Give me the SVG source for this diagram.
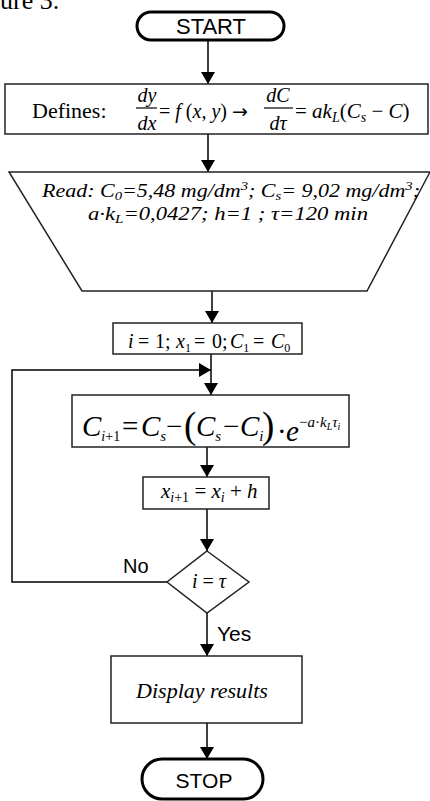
<svg xmlns="http://www.w3.org/2000/svg" width="430" height="801" viewBox="0 0 430 801">
<defs>
<marker id="ah" viewBox="0 0 12 14" refX="12" refY="7" markerWidth="12" markerHeight="14" markerUnits="userSpaceOnUse" orient="auto">
<path d="M0,0 L12,7 L0,14 Z" fill="#000"/>
</marker>
</defs>
<style>
.box{fill:#fff;stroke:#222;stroke-width:1.5}
.term{fill:#fff;stroke:#000;stroke-width:3}
.con{fill:none;stroke:#000;stroke-width:1.5;marker-end:url(#ah)}
.sans{font-family:"Liberation Sans",Arial,sans-serif;fill:#000}
.serif{font-family:"Liberation Serif","Times New Roman",serif;fill:#000}
.it{font-style:italic}
.bar{stroke:#000;stroke-width:1.2}
</style>
<rect width="430" height="801" fill="#fff"/>
<text class="serif" x="0" y="9" font-size="26">ure 3.</text>

<g id="connectors">
<line class="con" x1="208" y1="40" x2="208" y2="84"/>
<line class="con" x1="208" y1="134" x2="208" y2="172"/>
<line class="con" x1="212" y1="291" x2="212" y2="323"/>
<line class="con" x1="211" y1="354" x2="211" y2="395"/>
<line class="con" x1="207" y1="447" x2="207" y2="477"/>
<line class="con" x1="207" y1="509" x2="207" y2="551"/>
<line class="con" x1="207" y1="613" x2="207" y2="656"/>
<line class="con" x1="207" y1="723" x2="207" y2="759"/>
<polyline class="con" points="167,582 12,582 12,370 211,370"/>
<text class="sans" x="123" y="573" font-size="20">No</text>
<text class="sans" x="217" y="641" font-size="21">Yes</text>
</g>

<g id="start">
<rect class="term" x="137" y="12" width="147" height="28" rx="14"/>
<text class="sans" x="211" y="34" font-size="22" text-anchor="middle">START</text>
</g>

<g id="defines">
<rect class="box" x="5" y="84" width="423" height="50"/>
<text class="serif" x="32" y="118" font-size="22">Defines:</text>
<text class="serif it" x="147" y="102" font-size="20" text-anchor="middle">dy</text>
<line class="bar" x1="136" y1="108" x2="157" y2="108"/>
<text class="serif it" x="147" y="130" font-size="20" text-anchor="middle">dx</text>
<text class="serif" x="159" y="118" font-size="20">= <tspan class="it">f</tspan> (<tspan class="it">x</tspan>, <tspan class="it">y</tspan>) <tspan font-family="DejaVu Sans" font-size="19">→</tspan></text>
<text class="serif it" x="278" y="102" font-size="20" text-anchor="middle">dC</text>
<line class="bar" x1="264" y1="108" x2="293" y2="108"/>
<text class="serif it" x="278" y="130" font-size="20" text-anchor="middle">dτ</text>
<text class="serif" x="295" y="118" font-size="21">= <tspan class="it">ak</tspan><tspan class="it" font-size="14" dy="4">L</tspan><tspan dy="-4">(</tspan><tspan class="it">C</tspan><tspan class="it" font-size="14" dy="4">s</tspan><tspan dy="-4"> − </tspan><tspan class="it">C</tspan>)</text>
</g>

<g id="read">
<polygon class="box" points="9,172 430,172 367,291 82,291"/>
<text class="serif it" x="42" y="197" font-size="18" textLength="378" lengthAdjust="spacingAndGlyphs">Read: C<tspan font-size="12" dy="3">0</tspan><tspan dy="-3">=5,48 mg/dm</tspan><tspan font-size="12" dy="-7">3</tspan><tspan dy="7">; C</tspan><tspan font-size="12" dy="3">s</tspan><tspan dy="-3">= 9,02 mg/dm</tspan><tspan font-size="12" dy="-7">3</tspan><tspan dy="7">;</tspan></text>
<text class="serif it" x="88" y="220" font-size="18" textLength="280" lengthAdjust="spacingAndGlyphs">a·k<tspan font-size="12" dy="3">L</tspan><tspan dy="-3">=0,0427; h=1 ; τ=120 min</tspan></text>
</g>

<g id="init">
<rect class="box" x="113" y="323" width="189" height="31"/>
<text class="serif" y="348" font-size="20"><tspan class="it" x="128">i</tspan><tspan x="138">=</tspan><tspan x="155">1;</tspan><tspan class="it" x="176">x</tspan><tspan font-size="12" dy="4">1</tspan><tspan x="194" dy="-4">=</tspan><tspan x="212">0;</tspan><tspan class="it" x="230">C</tspan><tspan font-size="12" dy="4">1</tspan><tspan x="253" dy="-4">=</tspan><tspan class="it" x="271">C</tspan><tspan font-size="12" dy="4">0</tspan></text>
</g>

<g id="update">
<rect class="box" x="72" y="395" width="277" height="52"/>
<text class="serif" y="436" font-size="29"><tspan class="it" x="82">C</tspan><tspan font-size="14" dy="5" class="it">i</tspan><tspan font-size="14">+1</tspan><tspan x="122" dy="-5">=</tspan><tspan class="it" x="141">C</tspan><tspan class="it" font-size="15" dy="5">s</tspan><tspan x="166" dy="-5">−</tspan><tspan x="184" font-size="37" dy="2">(</tspan><tspan class="it" x="196" dy="-2">C</tspan><tspan class="it" font-size="15" dy="5">s</tspan><tspan x="223" dy="-5">−</tspan><tspan class="it" x="240">C</tspan><tspan class="it" font-size="15" dy="5">i</tspan><tspan x="262" font-size="37" dy="-3">)</tspan><tspan x="277" dy="3">·</tspan><tspan class="it" x="286">e</tspan><tspan font-size="15" x="299" dy="-14">−</tspan><tspan class="it" font-size="15">a</tspan><tspan font-size="15">·</tspan><tspan class="it" font-size="15">k</tspan><tspan class="it" font-size="10" dy="3">L</tspan><tspan class="it" font-size="15" dy="-3">τ</tspan><tspan class="it" font-size="10" dy="3">i</tspan></text>
</g>

<g id="step">
<rect class="box" x="143" y="477" width="126" height="32"/>
<text class="serif" x="161" y="498" font-size="21"><tspan class="it">x</tspan><tspan font-size="14" dy="4"><tspan class="it">i</tspan>+1</tspan><tspan dy="-4"> = </tspan><tspan class="it">x</tspan><tspan class="it" font-size="14" dy="4">i</tspan><tspan dy="-4"> + </tspan><tspan class="it">h</tspan></text>
</g>

<g id="decision">
<polygon class="box" points="207,551 249,582 207,613 167,582"/>
<text class="serif" x="209" y="588" font-size="20" text-anchor="middle"><tspan class="it">i</tspan> = <tspan class="it">τ</tspan></text>
</g>

<g id="display">
<rect class="box" x="111" y="656" width="191" height="67"/>
<text class="serif it" x="202" y="698" font-size="22" text-anchor="middle">Display results</text>
</g>

<g id="stop">
<rect class="term" x="142" y="759" width="121" height="40" rx="20"/>
<text class="sans" x="204" y="788" font-size="21" text-anchor="middle">STOP</text>
</g>
</svg>
